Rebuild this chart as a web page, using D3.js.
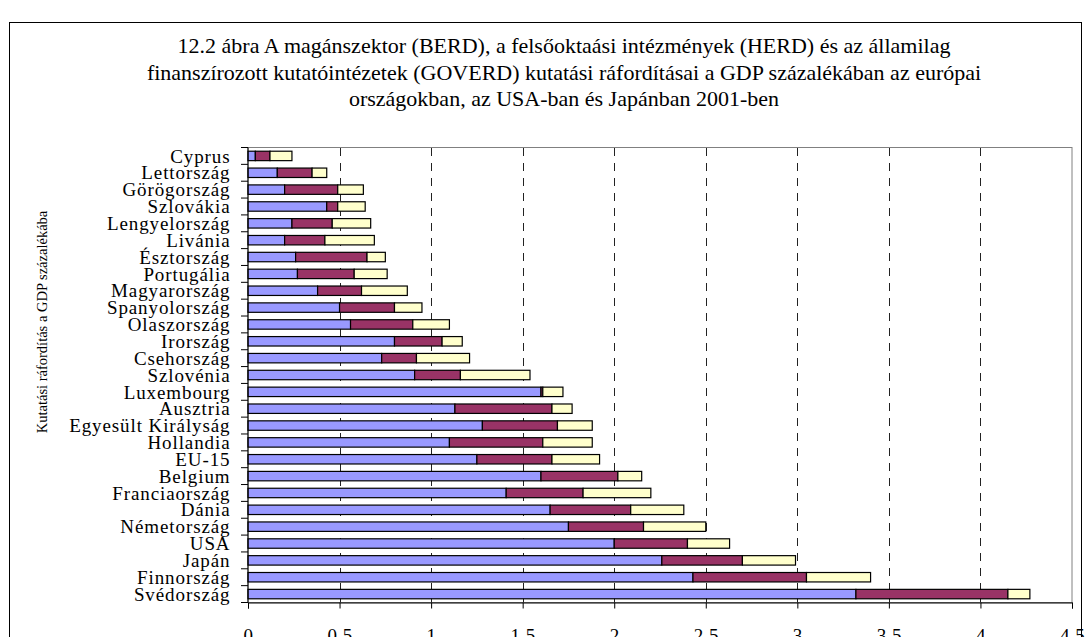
<!DOCTYPE html>
<html>
<head>
<meta charset="utf-8">
<script src="https://cdn.jsdelivr.net/npm/d3@7"></script>
<style>
  body { margin: 0; background: #fff; }
  svg { display: block; }
  text { font-family: "Liberation Serif", "Times New Roman", serif; fill: #000; }
</style>
</head>
<body>
<div id="chart"></div>
<script>
// countries, top to bottom as in the figure
const countries = ["Cyprus", "Lettország", "Görögország", "Szlovákia", "Lengyelország", "Livánia",
  "Észtország", "Portugália", "Magyarország", "Spanyolország", "Olaszország", "Irország",
  "Csehország", "Szlovénia", "Luxembourg", "Ausztria", "Egyesült Királyság", "Hollandia",
  "EU-15", "Belgium", "Franciaország", "Dánia", "Németország", "USA", "Japán", "Finnország",
  "Svédország"];
const berd   = [0.04, 0.16, 0.20, 0.43, 0.24, 0.20, 0.26, 0.27, 0.38, 0.50, 0.56, 0.80, 0.73, 0.91,
  1.60, 1.13, 1.28, 1.10, 1.25, 1.60, 1.41, 1.65, 1.75, 2.00, 2.26, 2.43, 3.32];
const herd   = [0.08, 0.19, 0.29, 0.06, 0.22, 0.22, 0.39, 0.31, 0.24, 0.30, 0.34, 0.26, 0.19, 0.25,
  0.01, 0.53, 0.41, 0.51, 0.41, 0.42, 0.42, 0.44, 0.41, 0.40, 0.44, 0.62, 0.83];
const goverd = [0.12, 0.08, 0.14, 0.15, 0.21, 0.27, 0.10, 0.18, 0.25, 0.15, 0.20, 0.11, 0.29, 0.38,
  0.11, 0.11, 0.19, 0.27, 0.26, 0.13, 0.37, 0.29, 0.34, 0.23, 0.29, 0.35, 0.12];
const seriesKeys = ["BERD", "HERD", "GOVERD"];
const xTicks = [0, 0.5, 1, 1.5, 2, 2.5, 3, 3.5, 4, 4.5];

const titleLines = [
  "12.2  ábra  A magánszektor (BERD), a felsőoktaási intézmények (HERD) és az államilag",
  "finanszírozott kutatóintézetek (GOVERD) kutatási ráfordításai a GDP százalékában az európai",
  "országokban, az USA-ban és Japánban 2001-ben"
];
const yTitle = "Kutatási ráfordítás a GDP százalékába";

const width = 1087, height = 637;
const colors = { BERD: "#9999FF", HERD: "#993366", GOVERD: "#FFFFCC" };

const rows = countries.map((c, i) => ({ country: c, BERD: berd[i], HERD: herd[i], GOVERD: goverd[i] }));
const stacked = d3.stack().keys(seriesKeys)(rows);

const svg = d3.select("#chart").append("svg")
  .attr("width", width)
  .attr("height", height);

// chart frame
svg.append("rect")
  .attr("x", 9.5).attr("y", 22.5)
  .attr("width", 1072).attr("height", 700)
  .attr("fill", "#fff").attr("stroke", "#000");

const x = d3.scaleLinear().domain([0, 4.5]).range([248, 1072]);
const y = d3.scaleBand().domain(countries).range([147.5, 602.5]).paddingInner(0.44).paddingOuter(0.22);

// title
svg.append("g").selectAll("text")
  .data(titleLines)
  .enter().append("text")
  .attr("x", 564)
  .attr("y", (d, i) => 53 + i * 26.5)
  .attr("text-anchor", "middle")
  .style("font-size", "22px")
  .text(d => d);

// plot border
svg.append("rect")
  .attr("x", x(0)).attr("y", 147.5)
  .attr("width", x(4.5) - x(0)).attr("height", 455)
  .attr("fill", "none").attr("stroke", "#808080");

// dashed gridlines
svg.append("g").selectAll("line")
  .data(xTicks.filter(t => t > 0 && t < 4.5))
  .enter().append("line")
  .attr("x1", d => Math.round(x(d)) + 0.5).attr("x2", d => Math.round(x(d)) + 0.5)
  .attr("y1", 148).attr("y2", 602)
  .attr("stroke", "#222")
  .attr("stroke-dasharray", "8,7");

// bars
svg.append("g").selectAll("g")
  .data(stacked)
  .enter().append("g")
  .attr("fill", d => colors[d.key])
  .selectAll("rect")
  .data(d => d)
  .enter().append("rect")
  .attr("x", d => x(d[0]))
  .attr("y", d => y(d.data.country))
  .attr("width", d => x(d[1]) - x(d[0]))
  .attr("height", y.bandwidth())
  .attr("stroke", "#000")
  .attr("stroke-width", 1.2);

// y axis: line, ticks between categories, labels
const yAxisG = svg.append("g");
yAxisG.append("line")
  .attr("x1", x(0)).attr("x2", x(0))
  .attr("y1", 147.5).attr("y2", 602.5)
  .attr("stroke", "#000");
yAxisG.selectAll("line.tick")
  .data(d3.range(countries.length + 1))
  .enter().append("line")
  .attr("class", "tick")
  .attr("x1", x(0) - 7).attr("x2", x(0))
  .attr("y1", i => y.range()[0] + i * y.step())
  .attr("y2", i => y.range()[0] + i * y.step())
  .attr("stroke", "#000");
yAxisG.selectAll("text")
  .data(countries)
  .enter().append("text")
  .attr("x", 230.5)
  .attr("y", d => y(d) + y.bandwidth() / 2)
  .attr("dy", "0.35em")
  .attr("text-anchor", "end")
  .style("font-size", "19px")
  .style("letter-spacing", "0.9px")
  .text(d => d);

// x axis
const xAxis = d3.axisBottom(x)
  .tickValues(xTicks)
  .tickSize(6)
  .tickPadding(20)
  .tickFormat(d => String(d));
const xAxisG = svg.append("g")
  .attr("transform", "translate(0,602.5)")
  .call(xAxis);
xAxisG.select(".domain").attr("stroke", "#000");
xAxisG.selectAll(".tick line").attr("stroke", "#000");
xAxisG.selectAll(".tick text")
  .style("font-family", "'Liberation Serif', 'Times New Roman', serif")
  .style("font-size", "19px")
  .style("letter-spacing", "0.5px")
  .attr("fill", "#000");

// y axis title
svg.append("text")
  .attr("transform", "translate(47,322) rotate(-90)")
  .attr("text-anchor", "middle")
  .style("font-size", "14.5px")
  .text(yTitle);
</script>
</body>
</html>
